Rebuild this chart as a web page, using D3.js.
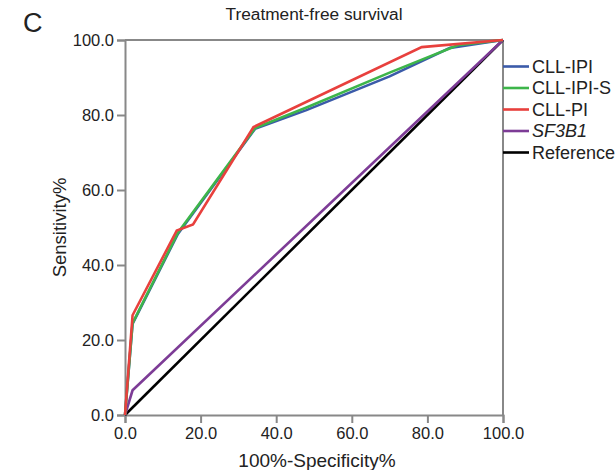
<!DOCTYPE html>
<html><head><meta charset="utf-8">
<script src="https://cdn.jsdelivr.net/npm/d3@7"></script>
<style>body{margin:0;background:#fff}svg{display:block;font-family:"Liberation Sans",Arial,sans-serif}</style>
</head><body><svg id="c" width="616" height="470"></svg>
<script>
const seriesNames = ["CLL-IPI","CLL-IPI-S","CLL-PI","SF3B1","Reference"];
const seriesColors = ["#3b5ba9","#3db54a","#e8403d","#7d3c96","#000000"];
const cllIpi  = [[0,0],[2,24.3],[14,48.3],[34.4,76.3],[48,81.3],[70,90.3],[86,97.9],[100,100]];
const cllIpiS = [[0,0],[2,24.5],[14,48.6],[34.4,76.5],[48,82],[70,91.3],[88,98.6],[100,100]];
const cllPi   = [[0,0],[2,26.6],[13.7,49.2],[18,50.8],[34,76.8],[78.5,98.1],[100,100]];
const sf3b1   = [[0,0],[2,6.6],[100,100]];
const reference = [[0,0],[100,100]];
const tickValues = [0,20,40,60,80,100];

const svg = d3.select("#c");
const L=125,R=503,T=40,B=415;
const x = d3.scaleLinear().domain([0,100]).range([L,R]);
const y = d3.scaleLinear().domain([0,100]).range([B,T]);
const axisCol="#888";

svg.append("line").attr("x1",L).attr("x2",R).attr("y1",T).attr("y2",T).attr("stroke",axisCol).attr("stroke-width",2);
svg.append("line").attr("x1",R).attr("x2",R).attr("y1",T).attr("y2",B).attr("stroke",axisCol).attr("stroke-width",2);

const fmt = d3.format(".1f");
const gx = svg.append("g").attr("transform",`translate(0,${B})`)
  .call(d3.axisBottom(x).tickValues(tickValues).tickFormat(fmt).tickSize(8).tickPadding(4));
const gy = svg.append("g").attr("transform",`translate(${L},0)`)
  .call(d3.axisLeft(y).tickValues(tickValues).tickFormat(fmt).tickSize(8).tickPadding(3));
[gx,gy].forEach(g=>{
  g.select(".domain").attr("stroke",axisCol).attr("stroke-width",2);
  g.selectAll(".tick line").attr("stroke",axisCol).attr("stroke-width",2);
  g.selectAll(".tick text").attr("fill","#222").style("font-size","16.5px").style("font-family","'Liberation Sans',Arial,sans-serif");
});

const line = d3.line().x(d=>x(d[0])).y(d=>y(d[1]));
const data = [cllIpi,cllIpiS,cllPi,sf3b1,reference];
const order = [4,3,0,1,2];
order.forEach(i=>{
  svg.append("path").attr("d",line(data[i])).attr("fill","none")
    .attr("stroke",seriesColors[i]).attr("stroke-width",2.6).attr("stroke-linejoin","miter");
});

seriesNames.forEach((n,i)=>{
  const yy = 66.5 + i*21.5;
  svg.append("line").attr("x1",R).attr("x2",R+26).attr("y1",yy).attr("y2",yy)
    .attr("stroke",seriesColors[i]).attr("stroke-width",2.6);
  svg.append("text").attr("x",R+29).attr("y",yy).attr("dy","0.35em")
    .style("font-size","18px").attr("fill","#222")
    .style("font-style", n==="SF3B1"?"italic":"normal").text(n);
});

svg.append("text").attr("x",(L+R)/2).attr("y",20).attr("text-anchor","middle")
  .style("font-size","17.3px").attr("fill","#222").text("Treatment-free survival");
svg.append("text").attr("x",(L+R)/2+3).attr("y",467).attr("text-anchor","middle")
  .style("font-size","19px").attr("fill","#222").text("100%-Specificity%");
svg.append("text").attr("transform",`translate(66,${(T+B)/2}) rotate(-90)`).attr("text-anchor","middle")
  .style("font-size","18.5px").attr("fill","#222").text("Sensitivity%");
svg.append("text").attr("x",23).attr("y",32).style("font-size","27px").attr("fill","#222").text("C");
</script></body></html>
